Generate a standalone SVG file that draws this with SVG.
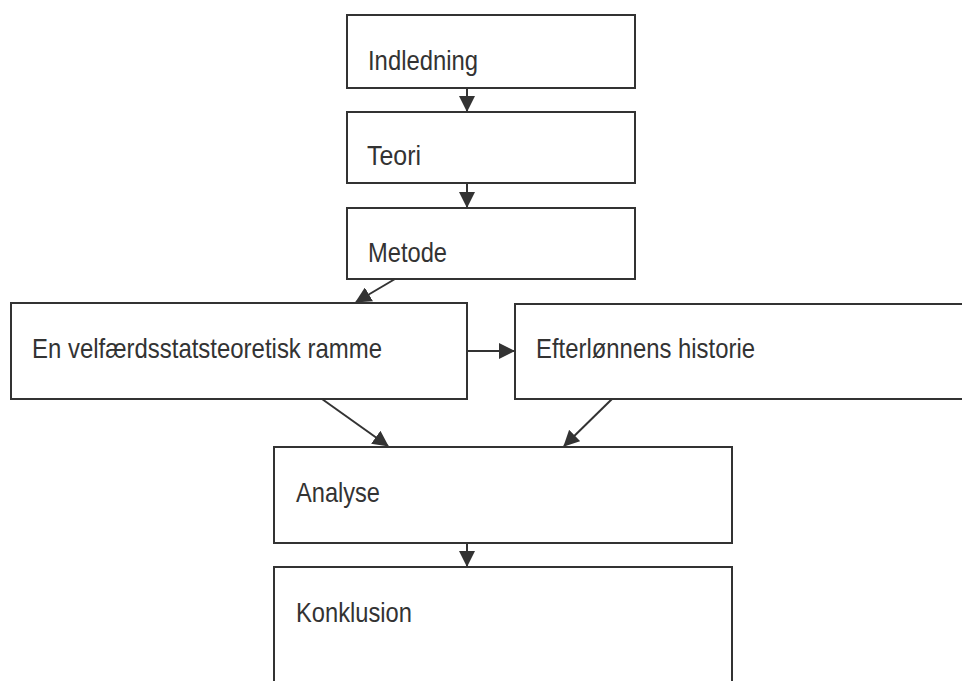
<svg xmlns="http://www.w3.org/2000/svg" width="962" height="681" viewBox="0 0 962 681">
<style>
.box{fill:#fff;stroke:#333;stroke-width:2}
.lbl{font-family:"Liberation Sans",Arial,sans-serif;font-size:28px;fill:#333}
.edge{stroke:#333;stroke-width:2;fill:none}
</style>
<defs>
<marker id="arr" markerWidth="16" markerHeight="16" viewBox="0 0 16 16" refX="15" refY="8" orient="auto" markerUnits="userSpaceOnUse">
<path d="M0,0 L16,8 L0,16 z" fill="#333"/>
</marker>
</defs>
<rect width="962" height="681" fill="#fff"/>
<g id="n1"><rect class="box" x="347" y="15" width="288" height="73"/><text class="lbl" x="368" y="70" textLength="110" lengthAdjust="spacingAndGlyphs">Indledning</text></g>
<g id="n2"><rect class="box" x="347" y="112" width="288" height="71"/><text class="lbl" x="367" y="165" textLength="54" lengthAdjust="spacingAndGlyphs">Teori</text></g>
<g id="n3"><rect class="box" x="347" y="208" width="288" height="71"/><text class="lbl" x="368" y="262" textLength="79" lengthAdjust="spacingAndGlyphs">Metode</text></g>
<g id="n4"><rect class="box" x="11" y="303" width="456" height="96"/><text class="lbl" x="32" y="358" textLength="350" lengthAdjust="spacingAndGlyphs">En velfærdsstatsteoretisk ramme</text></g>
<g id="n5"><rect class="box" x="515" y="304" width="460" height="95"/><text class="lbl" x="536" y="358" textLength="219" lengthAdjust="spacingAndGlyphs">Efterlønnens historie</text></g>
<g id="n6"><rect class="box" x="274" y="447" width="458" height="96"/><text class="lbl" x="296" y="502" textLength="84" lengthAdjust="spacingAndGlyphs">Analyse</text></g>
<g id="n7"><rect class="box" x="274" y="567" width="458" height="130"/><text class="lbl" x="296" y="622" textLength="116" lengthAdjust="spacingAndGlyphs">Konklusion</text></g>
<g id="edges">
<line class="edge" x1="467" y1="88" x2="467" y2="111" marker-end="url(#arr)"/>
<line class="edge" x1="467" y1="183" x2="467" y2="207" marker-end="url(#arr)"/>
<line class="edge" x1="395" y1="279" x2="356" y2="302" marker-end="url(#arr)"/>
<line class="edge" x1="467" y1="351" x2="514" y2="351" marker-end="url(#arr)"/>
<line class="edge" x1="322" y1="399" x2="388" y2="446" marker-end="url(#arr)"/>
<line class="edge" x1="612" y1="399" x2="564" y2="446" marker-end="url(#arr)"/>
<line class="edge" x1="467" y1="543" x2="467" y2="566" marker-end="url(#arr)"/>
</g>
</svg>
